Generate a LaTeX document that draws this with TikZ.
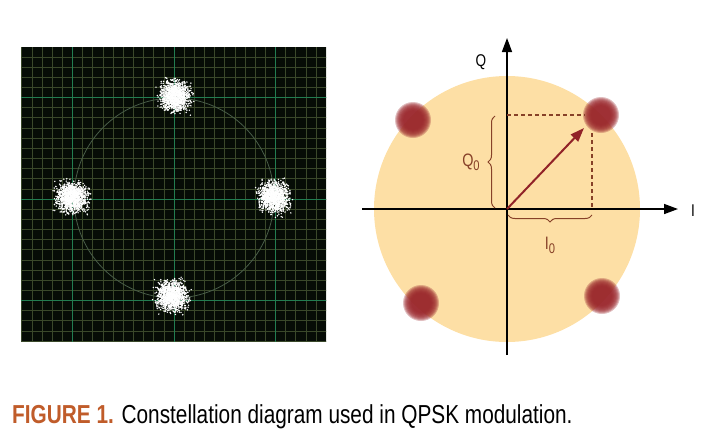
\documentclass[tikz,border=0pt]{standalone}
\usepackage{fontspec}
\setmainfont{Liberation Sans}[FakeStretch=0.8]
\usepackage{tikz}
\usetikzlibrary{arrows.meta,calc,positioning,decorations.pathreplacing}
\definecolor{scopebg}{RGB}{6,12,6}
\definecolor{minorgrid}{RGB}{58,72,42}
\definecolor{majorgrid}{RGB}{34,125,80}
\definecolor{ringgray}{RGB}{72,92,72}
\definecolor{disk}{RGB}{253,223,165}
\definecolor{symred}{RGB}{155,40,45}
\definecolor{vecred}{RGB}{145,35,40}
\definecolor{bracebrown}{RGB}{135,65,40}
\definecolor{capred}{RGB}{192,92,42}

\begin{document}
\begin{tikzpicture}[x=1pt,y=-1pt,>={Triangle[length=14pt,width=10pt]},
  axis/.style={->,line width=1.5pt,black},
  guide/.style={bracebrown,line width=1.2pt,dash pattern=on 4pt off 3pt},
  curly/.style={decorate,decoration={brace,amplitude=7pt},bracebrown,line width=1pt},
  sublabel/.style={font=\fontsize{18}{18}\selectfont,text=bracebrown},
  axlabel/.style={font=\fontsize{17}{17}\selectfont}]
  \useasboundingbox (0,0) rectangle (720,429);
  \pgfmathsetseed{7}

  % scope screen
  \begin{scope}
    \clip (21,47) rectangle (326,341);
    \fill[scopebg] (21,47) rectangle (326,341);
    \foreach \k in {-16,...,16} {
      \draw[minorgrid,line width=0.7pt] (174+\k*10.15,40) -- (174+\k*10.15,350);
      \draw[minorgrid,line width=0.7pt] (15,199+\k*10.15) -- (335,199+\k*10.15);
    }
    \foreach \k in {-10,0,10} {
      \draw[majorgrid,line width=0.9pt] (174+\k*10.15,40) -- (174+\k*10.15,350);
      \draw[majorgrid,line width=0.9pt] (15,199+\k*10.15) -- (335,199+\k*10.15);
    }
    \draw[ringgray,line width=0.8pt] (174,198) circle (100pt);
    \foreach \cx/\cy in {175/96,72/197,274/197,172/296} {
      \foreach \n in {1,...,1300} {
        \pgfmathsetmacro\dx{7*(rand+rand+rand)}
        \pgfmathsetmacro\dy{7*(rand+rand+rand)}
        \fill[white] (\cx+\dx,\cy+\dy) circle (0.8pt);
      }
    }
  \end{scope}

  % constellation
  \coordinate (O) at (507,209);
  \fill[disk] (O) circle (133pt);
  \foreach \sx/\sy/\nm in {601/115/s1,413/120/s2,421/303/s3,602/296/s4} {
    \coordinate (\nm) at (\sx,\sy);
    \foreach \r in {18,17,...,10} \fill[symred,opacity=0.3] (\nm) circle (\r pt);
  }
  \coordinate (Iend) at (678,209);
  \coordinate (Istart) at (362,209);
  \coordinate (Qtop) at (507,38);
  \coordinate (Qbot) at (507,355);
  \draw[axis] (Istart) -- (Iend);
  \draw[axis] (Qbot) -- (Qtop);
  \node[axlabel] (ql) at (481,62) {Q};
  \node[axlabel] (il) at (693,211) {I};

  \coordinate (Qproj) at (507,115);
  \coordinate (Pcorner) at (585,115);
  \coordinate (Iproj) at (592,209);
  \coordinate (Pside) at (592,133);
  \draw[guide] (Qproj) -- (Pcorner);
  \draw[guide] (Pside) -- (Iproj);
  \draw[->,vecred,line width=2pt] (O) -- (584,128);

  \draw[curly] (495,208) -- (495,116);
  \draw[curly] (592,215) -- (508,215);
  \node[sublabel] (q0) at (471,162) {Q\raisebox{-4pt}{\fontsize{14}{14}\selectfont 0}};
  \node[sublabel] (i0) at (550,245) {I\raisebox{-4pt}{\fontsize{14}{14}\selectfont 0}};

  % caption
  \node[anchor=base west,inner sep=0pt,font=\fontsize{26}{30}\selectfont] (cap) at (12,423)
    {{\color{capred}\bfseries FIGURE 1.} Constellation diagram used in QPSK modulation.};
\end{tikzpicture}
\end{document}
